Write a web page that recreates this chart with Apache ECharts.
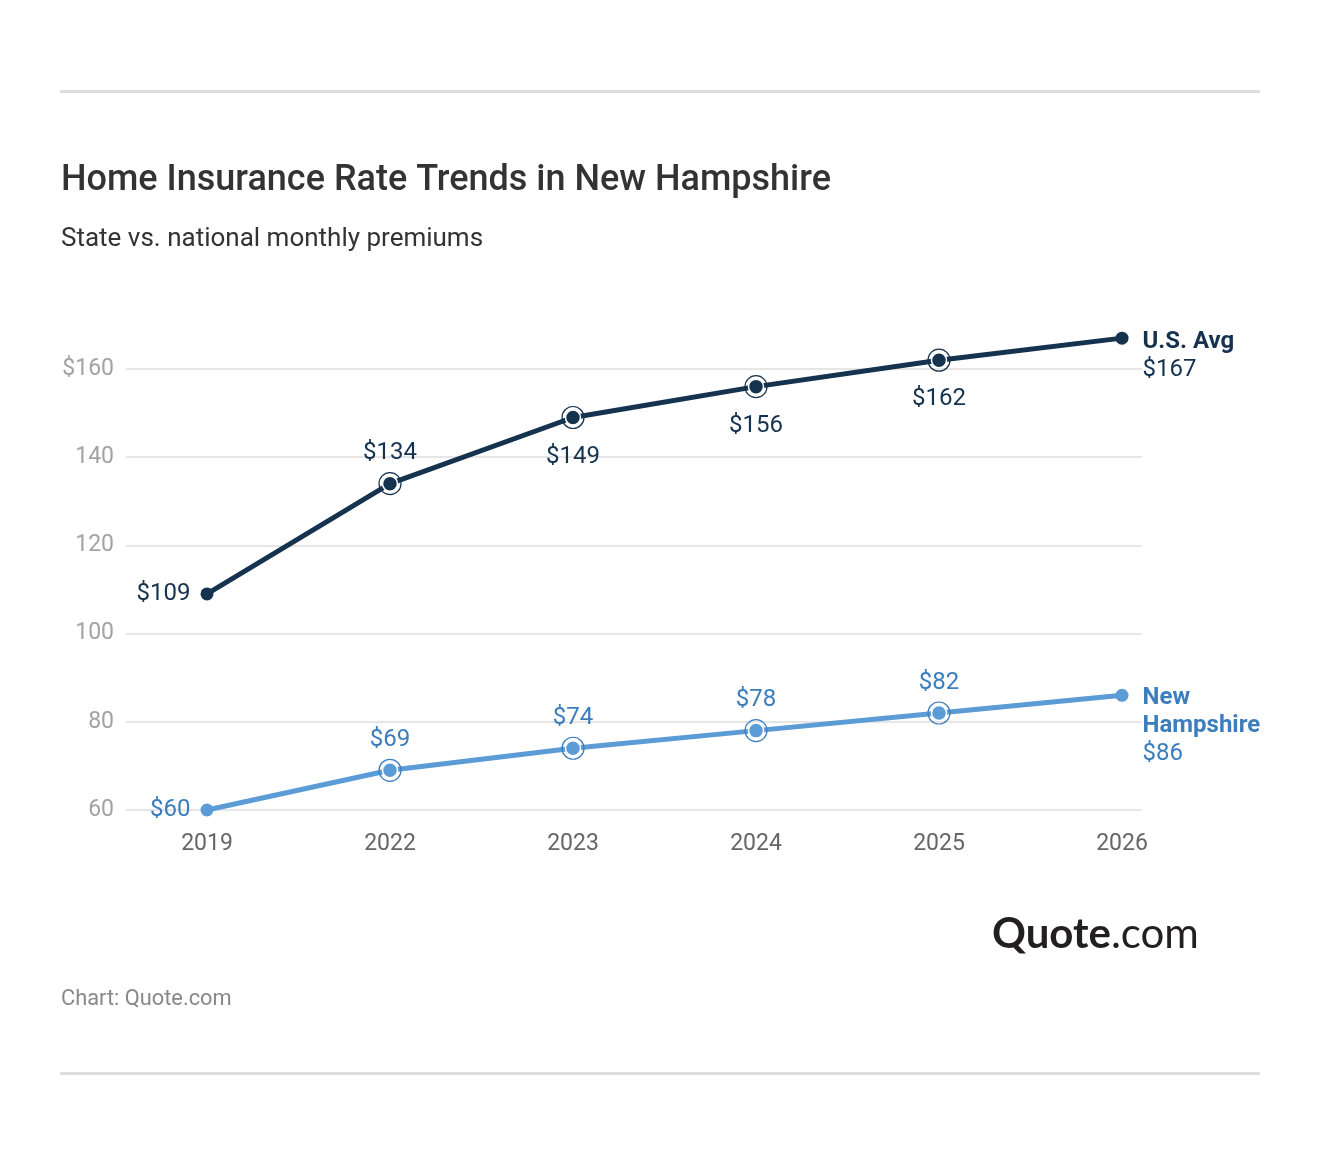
<!DOCTYPE html>
<html>
<head>
<meta charset="utf-8">
<script src="https://cdn.jsdelivr.net/npm/echarts@6/dist/echarts.min.js"></script>
<style>
  html, body { margin: 0; padding: 0; background: #fff; }
  #chart { width: 1320px; height: 1156px; }
</style>
</head>
<body>
<div id="chart"></div>
<script>
// data
const years = ['2019', '2022', '2023', '2024', '2025', '2026'];
const usAvg = [109, 134, 149, 156, 162, 167];
const newHampshire = [60, 69, 74, 78, 82, 86];
const yTicks = [60, 80, 100, 120, 140, 160];

const darkBlue = '#15324f';
const lightBlue = '#5b9bd6';
const labelBlue = '#3b7dbd';

// where the value label sits for each point
const usLabelPos = ['left', 'top', 'bottom', 'bottom', 'bottom', 'right'];
const nhLabelPos = ['left', 'top', 'top', 'top', 'top', 'right'];
const labelGap = { left: 10, top: 8, bottom: 17, right: 14 };

function buildPoints(values, positions, color, labelColor, endName, endOffset) {
    const last = values.length - 1;
    return values.map((v, i) => {
        const item = {
            value: v,
            label: {
                position: positions[i],
                distance: labelGap[positions[i]],
                color: labelColor
            }
        };
        if (i === 0 || i === last) {
            item.itemStyle = { color: color, borderWidth: 0 };
            item.symbolSize = 13;
        }
        if (i === last) {
            item.label.formatter = '{b|' + endName + '}\n$' + v;
            item.label.offset = endOffset;
        }
        return item;
    });
}

// middle points get an outer ring
function ringPoints(values) {
    return values.map((v, i) => (i === 0 || i === values.length - 1) ? null : v);
}

function ringSeries(values, color) {
    return {
        type: 'scatter',
        xAxisIndex: 1,
        yAxisIndex: 1,
        clip: false,
        data: ringPoints(values),
        symbol: 'circle',
        symbolSize: 22,
        itemStyle: { color: 'rgba(255,255,255,0)', borderColor: color, borderWidth: 1.2, opacity: 1 },
        emphasis: { disabled: true },
        silent: true,
        z: 4
    };
}

function lineSeries(name, values, positions, color, labelColor, endName, endOffset) {
    return {
        name: name,
        type: 'line',
        xAxisIndex: 1,
        yAxisIndex: 1,
        clip: false,
        data: buildPoints(values, positions, color, labelColor, endName, endOffset),
        lineStyle: { color: color, width: 5 },
        symbol: 'circle',
        symbolSize: 15,
        itemStyle: { color: color, borderColor: '#fff', borderWidth: 1.5 },
        label: {
            show: true,
            fontSize: 24,
            lineHeight: 28,
            formatter: p => '$' + p.value,
            rich: { b: { fontWeight: 'bold', fontSize: 24, lineHeight: 28, color: labelColor } }
        },
        z: 3
    };
}

const chart = echarts.init(document.getElementById('chart'));

const option = {
    animation: false,
    textStyle: { fontFamily: 'Roboto' },
    grid: [
        { left: 126, right: 178, top: 369, bottom: 346 },
        { left: 207, right: 198, top: 369, bottom: 346 }
    ],
    xAxis: [
        { gridIndex: 0, type: 'value', show: false, min: 0, max: 1 },
        {
            gridIndex: 1,
            type: 'category',
            data: years,
            boundaryGap: false,
            axisLine: { show: false },
            axisTick: { show: false },
            axisLabel: { color: '#666', fontSize: 23, margin: 23 }
        }
    ],
    yAxis: [
        {
            gridIndex: 0,
            type: 'value',
            min: yTicks[0],
            max: yTicks[yTicks.length - 1],
            interval: 20,
            axisLine: { show: false },
            axisTick: { show: false },
            axisLabel: {
                color: '#a3a3a3',
                fontSize: 23,
                margin: 12,
                padding: [4, 0, 0, 0],
                formatter: v => v === 160 ? '$' + v : String(v)
            },
            splitLine: { lineStyle: { color: '#e6e6e6', width: 2 } }
        },
        {
            gridIndex: 1,
            type: 'value',
            min: yTicks[0],
            max: yTicks[yTicks.length - 1],
            show: false,
            splitLine: { show: false }
        }
    ],
    series: [
        lineSeries('U.S. Avg', usAvg, usLabelPos, darkBlue, darkBlue, 'U.S. Avg', [0, 18]),
        lineSeries('New Hampshire', newHampshire, nhLabelPos, lightBlue, labelBlue, 'New\nHampshire', [0, 31]),
        ringSeries(usAvg, darkBlue),
        ringSeries(newHampshire, labelBlue)
    ],
    graphic: [
        { type: 'rect', shape: { x: 60, y: 90, width: 1200, height: 3 }, style: { fill: '#dddddd' } },
        { type: 'rect', shape: { x: 60, y: 1072, width: 1200, height: 3 }, style: { fill: '#dddddd' } },
        {
            type: 'text', left: 61, top: 163,
            style: { text: 'Home Insurance Rate Trends in New Hampshire', fontFamily: 'Roboto', fontSize: 36, fontWeight: 500, fill: '#333' }
        },
        {
            type: 'text', left: 61, top: 226,
            style: { text: 'State vs. national monthly premiums', fontFamily: 'Roboto', fontSize: 26, fill: '#333' }
        },
        {
            type: 'text', left: 61, top: 989,
            style: { text: 'Chart: Quote.com', fontFamily: 'Roboto', fontSize: 21.8, fill: '#888' }
        },
        {
            type: 'text', left: 992, top: 913,
            style: {
                text: '{q|Quote}{c|.com}',
                rich: {
                    q: { fontFamily: 'Lato', fontSize: 42, fontWeight: 'bold', fill: '#231f20', color: '#231f20' },
                    c: { fontFamily: 'Lato', fontSize: 42, fill: '#231f20', color: '#231f20' }
                }
            }
        }
    ]
};

chart.setOption(option);
</script>
</body>
</html>
